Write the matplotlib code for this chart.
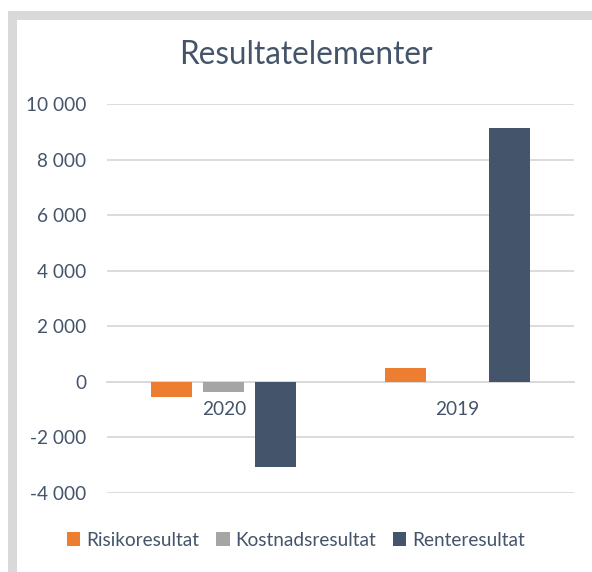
import matplotlib
matplotlib.use("Agg")
import matplotlib.pyplot as plt
from matplotlib.patches import Rectangle
from matplotlib.ticker import FuncFormatter, FixedLocator
import numpy as np

# data
categories = ["2020", "2019"]
series_names = ["Risikoresultat", "Kostnadsresultat", "Renteresultat"]
risiko = [-560, 500]
kostnad = [-380, 0]
rente = [-3080, 9120]
y_ticks = [-4000, -2000, 0, 2000, 4000, 6000, 8000, 10000]

colors = ["#ED7D31", "#A5A5A5", "#44546A"]
text_col = "#44546A"
grid_col = "#D9D9D9"

plt.rcParams['font.family'] = ['Lato', 'DejaVu Sans']

W, H = 592, 572
fig = plt.figure(figsize=(W / 100, H / 100), dpi=100)
ax = fig.add_axes([107 / W, 1 - 492.7 / H, (574 - 107) / W, (492.7 - 104) / H])

x = np.arange(len(categories))
bw = 0.176
step = 0.223
for i, (name, vals) in enumerate(zip(series_names, [risiko, kostnad, rente])):
    ax.bar(x + (i - 1) * step, vals, width=bw, color=colors[i], label=name, zorder=3)

ax.set_xlim(-0.5, 1.5)
ax.set_ylim(-4000, 10000)
ax.yaxis.set_major_locator(FixedLocator(y_ticks))
ax.yaxis.set_major_formatter(FuncFormatter(lambda v, p: f"{v:,.0f}".replace(",", " ")))
ax.grid(axis='y', color=grid_col, linewidth=1.3, zorder=0)
ax.set_axisbelow(True)

for s in ['top', 'right', 'left']:
    ax.spines[s].set_visible(False)
ax.spines['bottom'].set_position(('data', 0))
ax.spines['bottom'].set_color(grid_col)
ax.spines['bottom'].set_linewidth(1.3)
ax.spines['bottom'].set_zorder(2)

ax.set_xticks(x)
ax.set_xticklabels(categories)
ax.tick_params(axis='x', length=0, pad=14, labelsize=13.7, labelcolor=text_col)
ax.tick_params(axis='y', length=0, pad=15, labelsize=13.7, labelcolor=text_col)

fig.text(306 / W, 1 - 55 / H, "Resultatelementer", ha='center', va='center',
         fontsize=22.7, color=text_col)

leg = fig.legend(loc='center', bbox_to_anchor=(296 / W, 1 - 540 / H), ncol=3, frameon=False,
                 fontsize=13.7, handlelength=0.7, handleheight=0.7, handletextpad=0.3,
                 columnspacing=0.9)
for t in leg.get_texts():
    t.set_color(text_col)

# outer frame like the spreadsheet chart border
lw_px = 9
fig.add_artist(Rectangle((11.5 / W, -4.5 / H), (W + 20) / W, (H - 14.5 + 4.5) / H,
                         transform=fig.transFigure, fill=False, edgecolor=grid_col,
                         linewidth=lw_px * 0.72))

fig.savefig("out.png", dpi=100)
